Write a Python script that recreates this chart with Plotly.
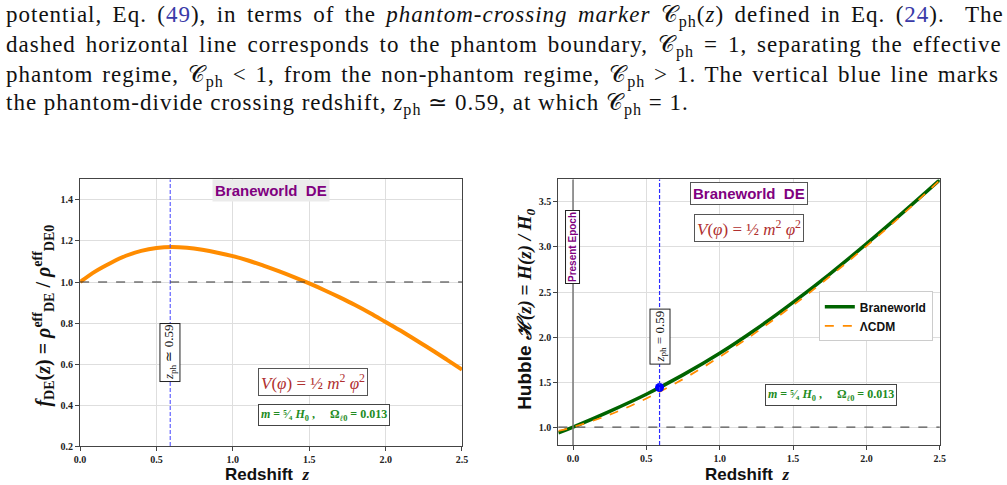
import plotly.graph_objects as go

# ---------------- data ----------------
z_f = [0.0, 0.1, 0.2, 0.3, 0.4, 0.5, 0.6, 0.7, 0.8, 0.9, 1.0, 1.1, 1.2, 1.3,
       1.4, 1.5, 1.6, 1.7, 1.8, 1.9, 2.0, 2.1, 2.2, 2.3, 2.4, 2.5]
f_de = [1.0, 1.052, 1.093, 1.128, 1.152, 1.166, 1.171, 1.167, 1.157, 1.143,
        1.126, 1.105, 1.08, 1.053, 1.024, 0.993, 0.96, 0.925, 0.888, 0.848,
        0.805, 0.762, 0.716, 0.67, 0.622, 0.573]

z_h = [-0.1, 0.0, 0.25, 0.5, 0.75, 1.0, 1.25, 1.5, 1.75, 2.0, 2.25, 2.5]
h_brane = [0.935, 1.0, 1.175, 1.365, 1.58, 1.82, 2.09, 2.385, 2.70, 3.035, 3.385, 3.745]
h_lcdm = [0.957, 1.0, 1.138, 1.318, 1.533, 1.78, 2.055, 2.352, 2.672, 3.01, 3.366, 3.741]

z_ph = 0.59
h_ph = 1.44

x_ticks = [0.0, 0.5, 1.0, 1.5, 2.0, 2.5]
y_ticks_left = [0.2, 0.4, 0.6, 0.8, 1.0, 1.2, 1.4]
y_ticks_right = [1.0, 1.5, 2.0, 2.5, 3.0, 3.5]

para_lines = [
    "potential, Eq. (<span style='color:#3a3aa8'>49</span>), in terms of the <i>phantom-crossing marker</i> "
    "𝒞<sub>ph</sub>(<i>z</i>) defined in Eq. (<span style='color:#3a3aa8'>24</span>).  The",
    "dashed horizontal line corresponds to the phantom boundary, 𝒞<sub>ph</sub> = 1, separating the effective",
    "phantom regime, 𝒞<sub>ph</sub> &lt; 1, from the non-phantom regime, 𝒞<sub>ph</sub> &gt; 1. The vertical blue line marks",
    "the phantom-divide crossing redshift, <i>z</i><sub>ph</sub> ≃ 0.59, at which 𝒞<sub>ph</sub> = 1.",
]
para_y = [17, 47, 77, 106]
para_wordspacing = [3.6, 3.2, 2.1, 0]

# ---------------- figure ----------------
W, H = 1007, 485
SERIF = "Liberation Serif"
SANS = "Liberation Sans"
ORANGE = "#ff8c00"
GREEN = "#006400"
PURPLE = "#800080"
DRED = "#b03030"
PGREEN = "#228b22"

fig = go.Figure()

fig.add_trace(go.Scatter(x=z_f, y=f_de, mode="lines", line=dict(color=ORANGE, width=4, shape="spline"),
                         showlegend=False, xaxis="x", yaxis="y"))
fig.add_trace(go.Scatter(x=z_h, y=h_brane, mode="lines", name="Braneworld",
                         line=dict(color=GREEN, width=3.5, shape="spline"), xaxis="x2", yaxis="y2"))
fig.add_trace(go.Scatter(x=z_h, y=h_lcdm, mode="lines", name="ΛCDM",
                         line=dict(color=ORANGE, width=1.8, dash="dash", shape="spline"), xaxis="x2", yaxis="y2"))
fig.add_trace(go.Scatter(x=[z_ph], y=[h_ph], mode="markers", marker=dict(color="blue", size=9),
                         showlegend=False, xaxis="x2", yaxis="y2"))

axis_common = dict(showline=True, mirror=True, linecolor="#444", linewidth=1.2,
                   showgrid=True, gridcolor="#dedede", gridwidth=1, zeroline=False,
                   ticks="outside", ticklen=4, tickcolor="#444",
                   tickfont=dict(family=SERIF, size=10, color="#222", weight="bold"), tickformat=".1f")

fig.update_layout(
    width=W, height=H,
    margin=dict(l=0, r=0, t=0, b=0),
    paper_bgcolor="white", plot_bgcolor="white",
    xaxis=dict(domain=[75 / W, 461.5 / W], range=[0, 2.5], tickvals=x_ticks, anchor="y", **axis_common),
    yaxis=dict(domain=[1 - 451.7 / H, 1 - 181.7 / H], range=[0.2, 1.5], tickvals=y_ticks_left, anchor="x",
               **axis_common),
    xaxis2=dict(domain=[559 / W, 945 / W], range=[-0.1, 2.5], tickvals=x_ticks, anchor="y2", **axis_common),
    yaxis2=dict(domain=[1 - 450.7 / H, 1 - 181.7 / H], range=[0.8, 3.75], tickvals=y_ticks_right, anchor="x2",
                **axis_common),
    legend=dict(x=938 / W, xanchor="right", y=1 - 295 / H, yanchor="top",
                bgcolor="white", bordercolor="#cccccc", borderwidth=1,
                font=dict(family=SANS, size=12, color="#111", weight="bold"), tracegroupgap=2),
    showlegend=True,
)

shapes = []
# left plot lines
shapes.append(dict(type="line", xref="x", yref="y domain", x0=z_ph, x1=z_ph, y0=0, y1=1,
                   line=dict(color="rgba(70,70,255,0.85)", width=1.2, dash="4px,2px")))
shapes.append(dict(type="line", xref="x domain", yref="y", x0=0, x1=1, y0=1.0, y1=1.0,
                   line=dict(color="#333", width=1.2, dash="dash")))
# right plot lines
shapes.append(dict(type="line", xref="x2", yref="y2 domain", x0=0, x1=0, y0=0, y1=1,
                   line=dict(color="#777", width=1.5)))
shapes.append(dict(type="line", xref="x2", yref="y2 domain", x0=z_ph, x1=z_ph, y0=0, y1=1,
                   line=dict(color="#2a2aff", width=1.2, dash="4px,2px")))
shapes.append(dict(type="line", xref="x2 domain", yref="y2", x0=0, x1=1, y0=1.0, y1=1.0,
                   line=dict(color="#555", width=1.2, dash="dash")))
fig.update_layout(shapes=shapes)

ann = []
# paragraph text
for txt, yy, ws in zip(para_lines, para_y, para_wordspacing):
    ann.append(dict(xref="paper", yref="paper", x=-2 / W, y=1 - yy / H, xanchor="left", yanchor="middle",
                    text=f"<span style='word-spacing:{ws}px;letter-spacing:1px'>{txt}</span>", showarrow=False,
                    font=dict(family=SERIF, size=23, color="#111")))

# left plot annotations
ann.append(dict(xref="x", yref="y domain", x=1.25, y=1, xanchor="center", yanchor="top", showarrow=False,
                text="<b>Braneworld  DE</b>", font=dict(family=SANS, size=15, color=PURPLE),
                bgcolor="#ebebeb", borderpad=2))
ann.append(dict(xref="x", yref="y", x=z_ph, y=0.655, xanchor="center", yanchor="middle", showarrow=False,
                textangle=-90,
                text="<i>z</i><sub>ph</sub> ≃ 0.59", font=dict(family=SERIF, size=13, color="#111"),
                bgcolor="white", bordercolor="#222", borderwidth=1, borderpad=1))
ann.append(dict(xref="x", yref="y", x=1.527, y=0.511, xanchor="center", yanchor="middle", showarrow=False,
                text="<i>V</i>(<i>φ</i>) = ½ <i>m</i><sup>2</sup> <i>φ</i><sup>2</sup>",
                font=dict(family=SERIF, size=17, color=DRED),
                bgcolor="white", bordercolor="#555", borderwidth=1, borderpad=2))
ann.append(dict(xref="x", yref="y", x=1.598, y=0.352, xanchor="center", yanchor="middle", showarrow=False,
                text="<b><i>m</i> = ⁵⁄₄ <i>H</i><sub>0</sub> ,     Ω<sub><i>ℓ</i>0</sub> = 0.013</b>",
                font=dict(family=SERIF, size=12, color=PGREEN),
                bgcolor="white", bordercolor="#444", borderwidth=1, borderpad=2))
# left axis titles
ann.append(dict(xref="paper", yref="paper", x=38 / W, y=1 - 320 / H, xanchor="center", yanchor="middle",
                showarrow=False, textangle=-90,
                text="<b><i>f</i><sub>DE</sub>(<i>z</i>) = <i>ρ</i><sup>eff</sup><sub>DE</sub> / "
                     "<i>ρ</i><sup>eff</sup><sub>DE0</sub></b>",
                font=dict(family=SERIF, size=20, color="#111")))
ann.append(dict(xref="paper", yref="paper", x=264 / W, y=1 - 480 / H, xanchor="center", yanchor="middle",
                showarrow=False,
                text="<b>Redshift  </b><b><i><span style='font-family:Liberation Serif'>z</span></i></b>",
                font=dict(family=SANS, size=17, color="#111")))

# right plot annotations
ann.append(dict(xref="x2", yref="y2 domain", x=1.203, y=0.99, xanchor="center", yanchor="top", showarrow=False,
                text="<b>Braneworld  DE</b>", font=dict(family=SANS, size=15, color=PURPLE),
                bgcolor="white", bordercolor="#555", borderwidth=1, borderpad=2))
ann.append(dict(xref="x2", yref="y2", x=1.2, y=3.21, xanchor="center", yanchor="middle", showarrow=False,
                text="<i>V</i>(<i>φ</i>) = ½ <i>m</i><sup>2</sup> <i>φ</i><sup>2</sup>",
                font=dict(family=SERIF, size=17, color=DRED),
                bgcolor="white", bordercolor="#555", borderwidth=1, borderpad=2))
ann.append(dict(xref="x2", yref="y2", x=0.0, y=3.0, xanchor="center", yanchor="middle", showarrow=False,
                textangle=-90,
                text="<b>Present Epoch</b>", font=dict(family=SANS, size=10, color=PURPLE),
                bgcolor="white", bordercolor="#222", borderwidth=1, borderpad=1))
ann.append(dict(xref="x2", yref="y2", x=z_ph, y=2.0, xanchor="center", yanchor="middle", showarrow=False,
                textangle=-90,
                text="<i>z</i><sub>ph</sub> = 0.59", font=dict(family=SERIF, size=13, color="#111"),
                bgcolor="white", bordercolor="#222", borderwidth=1, borderpad=1))
ann.append(dict(xref="x2", yref="y2", x=1.761, y=1.355, xanchor="center", yanchor="middle", showarrow=False,
                text="<b><i>m</i> = ⁵⁄₄ <i>H</i><sub>0</sub> ,     Ω<sub><i>ℓ</i>0</sub> = 0.013</b>",
                font=dict(family=SERIF, size=12, color=PGREEN),
                bgcolor="white", bordercolor="#444", borderwidth=1, borderpad=2))
ann.append(dict(xref="paper", yref="paper", x=526 / W, y=1 - 313 / H, xanchor="center", yanchor="middle",
                showarrow=False, textangle=-90,
                text="<b>Hubble</b> <b><i><span style='font-family:Liberation Serif'>ℋ(z) = H(z) / H</span></i></b>"
                     "<b><i><sub><span style='font-family:Liberation Serif'>0</span></sub></i></b>",
                font=dict(family=SANS, size=19, color="#111")))
ann.append(dict(xref="paper", yref="paper", x=750 / W, y=1 - 480 / H, xanchor="center", yanchor="middle",
                showarrow=False,
                text="<b>Redshift  </b><b><i><span style='font-family:Liberation Serif'>z</span></i></b>",
                font=dict(family=SANS, size=17, color="#111")))

fig.update_layout(annotations=ann)

fig.write_html("out.html")
